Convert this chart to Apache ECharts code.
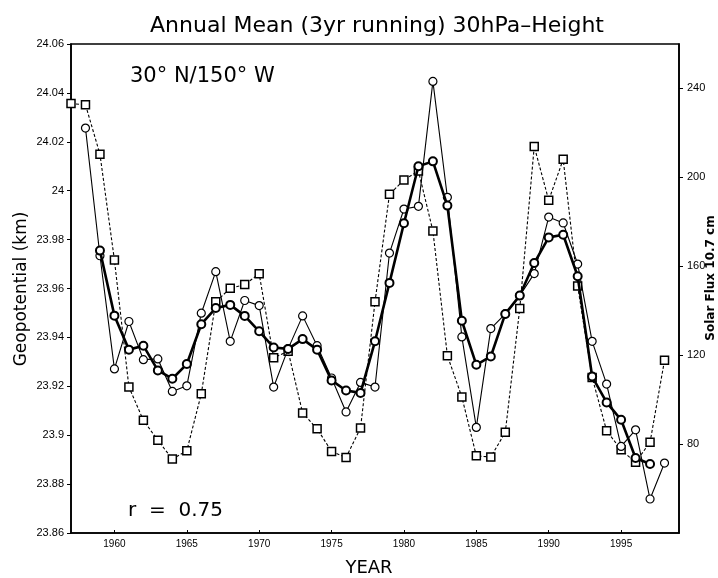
<!DOCTYPE html>
<html><head><meta charset="utf-8">
<script src="https://cdn.jsdelivr.net/npm/echarts@6/dist/echarts.min.js"></script>
<style>html,body{margin:0;padding:0;background:#fff}#c{width:718px;height:578px}</style>
</head><body><div id="c"></div>
<script>
// ---- data ----
const annualYears = [1958,1959,1960,1961,1962,1963,1964,1965,1966,1967,1968,1969,1970,1971,1972,1973,1974,1975,1976,1977,1978,1979,1980,1981,1982,1983,1984,1985,1986,1987,1988,1989,1990,1991,1992,1993,1994,1995,1996,1997,1998];
const annualHeight = [24.0256,23.9734,23.9271,23.9465,23.9309,23.9312,23.9179,23.9202,23.9499,23.9669,23.9384,23.9551,23.9530,23.9197,23.9354,23.9488,23.9366,23.9234,23.9095,23.9216,23.9197,23.9745,23.9925,23.9936,24.0447,23.9973,23.9402,23.9032,23.9436,23.9496,23.9571,23.9661,23.9892,23.9868,23.9700,23.9384,23.9209,23.8954,23.9022,23.8739,23.8886];

const runningYears = [1959,1960,1961,1962,1963,1964,1965,1966,1967,1968,1969,1970,1971,1972,1973,1974,1975,1976,1977,1978,1979,1980,1981,1982,1983,1984,1985,1986,1987,1988,1989,1990,1991,1992,1993,1994,1995,1996,1997];
const runningHeight = [23.9755,23.9489,23.9350,23.9366,23.9265,23.9231,23.9291,23.9454,23.9520,23.9533,23.9488,23.9425,23.9359,23.9353,23.9393,23.9350,23.9224,23.9183,23.9173,23.9384,23.9623,23.9867,24.0100,24.0120,23.9939,23.9468,23.9288,23.9322,23.9496,23.9571,23.9704,23.9809,23.9820,23.9650,23.9240,23.9134,23.9063,23.8907,23.8882];

const fluxYears = [1957,1958,1959,1960,1961,1962,1963,1964,1965,1966,1967,1968,1969,1970,1971,1972,1973,1974,1975,1976,1977,1978,1979,1980,1981,1982,1983,1984,1985,1986,1987,1988,1989,1990,1991,1992,1993,1994,1995,1996,1997,1998];
const solarFlux = [233.2,232.7,210.4,162.8,105.7,90.7,81.7,73.3,77.0,102.6,144.0,150.1,151.8,156.6,118.8,121.8,94.0,86.9,76.7,74.0,87.2,144.0,192.4,198.8,202.9,175.9,119.8,101.2,74.7,74.2,85.3,141.0,213.9,189.7,208.1,151.1,110.0,86.0,77.4,71.8,80.8,117.7];

const yearTicks = [1960,1965,1970,1975,1980,1985,1990,1995];
const fluxTicks = [80,120,160,200,240];

const titleText = 'Annual Mean (3yr running) 30hPa–Height';
const locationText = '30° N/150° W';
const corrText = 'r  =  0.75';
const xName = 'YEAR';
const yLeftName = 'Geopotential (km)';
const yRightName = 'Solar Flux 10.7 cm';

// ---- chart ----
const zip = (xs, ys) => xs.map((x, i) => [x, ys[i]]);
const chart = echarts.init(document.getElementById('c'), null, {renderer: 'canvas'});
const tickFont = 'Liberation Sans, Arial, sans-serif';
const textFont = 'DejaVu Sans, sans-serif';

chart.setOption({
  animation: false,
  backgroundColor: '#fff',
  grid: {left: 71, right: 39, top: 44, bottom: 45, show: true, borderColor: '#000', borderWidth: 1.6, backgroundColor: 'transparent'},
  xAxis: {
    type: 'value', min: 1957, max: 1999,
    axisLine: {show: true, lineStyle: {color: '#000', width: 1.6}},
    axisTick: {show: true, inside: true, length: 3, customValues: yearTicks, lineStyle: {color: '#000'}},
    axisLabel: {customValues: yearTicks, formatter: v => String(v), color: '#000', fontSize: 10, fontFamily: tickFont, margin: 6},
    splitLine: {show: false}
  },
  yAxis: [
    {
      type: 'value', min: 23.86, max: 24.06, interval: 0.02, position: 'left',
      axisLine: {show: true, lineStyle: {color: '#000', width: 1.6}},
      axisTick: {show: true, inside: false, length: 4, lineStyle: {color: '#000'}},
      axisLabel: {color: '#000', fontSize: 11, fontFamily: tickFont, margin: 7},
      splitLine: {show: false}
    },
    {
      type: 'value', min: 40, max: 260, position: 'right',
      axisLine: {show: true, lineStyle: {color: '#000', width: 1.6}},
      axisTick: {show: true, inside: false, length: 4, customValues: fluxTicks, lineStyle: {color: '#000'}},
      axisLabel: {customValues: fluxTicks, color: '#000', fontSize: 11, fontFamily: tickFont, margin: 8},
      splitLine: {show: false}
    }
  ],
  series: [
    {
      type: 'line', yAxisIndex: 1, data: zip(fluxYears, solarFlux),
      symbol: 'rect', symbolSize: 8, showAllSymbol: true,
      lineStyle: {color: '#000', width: 1.1, type: [3, 2]},
      itemStyle: {color: '#fff', borderColor: '#000', borderWidth: 1.5},
      z: 2
    },
    {
      type: 'line', yAxisIndex: 0, data: zip(annualYears, annualHeight),
      symbol: 'circle', symbolSize: 8, showAllSymbol: true,
      lineStyle: {color: '#000', width: 1.1},
      itemStyle: {color: '#fff', borderColor: '#000', borderWidth: 1.2},
      z: 3
    },
    {
      type: 'line', yAxisIndex: 0, data: zip(runningYears, runningHeight),
      symbol: 'circle', symbolSize: 8, showAllSymbol: true,
      lineStyle: {color: '#000', width: 2.6},
      itemStyle: {color: '#fff', borderColor: '#000', borderWidth: 2},
      z: 4
    }
  ],
  graphic: [
    {type: 'text', x: 377, y: 26, style: {text: titleText, font: '22px ' + textFont, fill: '#000', textAlign: 'center', textVerticalAlign: 'middle'}},
    {type: 'text', x: 130, y: 77, style: {text: locationText, font: '21px ' + textFont, fill: '#000', textAlign: 'left', textVerticalAlign: 'middle'}},
    {type: 'text', x: 128, y: 511, style: {text: corrText, font: '20px ' + textFont, fill: '#000', textAlign: 'left', textVerticalAlign: 'middle'}},
    {type: 'text', x: 369, y: 568, style: {text: xName, font: '18px ' + textFont, fill: '#000', textAlign: 'center', textVerticalAlign: 'middle'}},
    {type: 'text', x: 22, y: 289, rotation: Math.PI / 2, style: {text: yLeftName, font: '17px ' + textFont, fill: '#000', textAlign: 'center', textVerticalAlign: 'middle'}},
    {type: 'text', x: 711, y: 278, rotation: Math.PI / 2, style: {text: yRightName, font: 'bold 12px ' + textFont, fill: '#000', textAlign: 'center', textVerticalAlign: 'middle'}}
  ]
});
</script>
</body></html>
